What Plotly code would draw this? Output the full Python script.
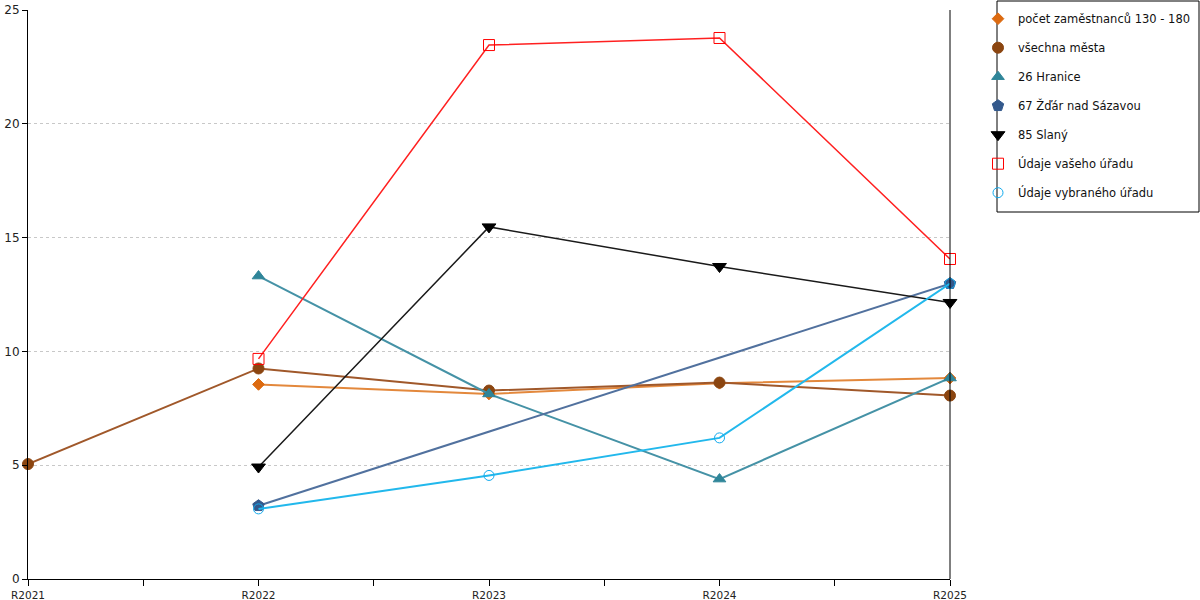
import plotly.graph_objects as go

years = ['R2021', 'R2022', 'R2023', 'R2024', 'R2025']

pocet_zam = [None, 8.55, 8.13, 8.6, 8.83]
vsechna_mesta = [5.05, 9.25, 8.28, 8.63, 8.06]
hranice = [None, 13.31, 8.13, 4.39, 8.83]
zdar = [None, 3.22, None, None, 12.98]
slany = [None, 4.92, 15.47, 13.73, 12.15]
vas_urad = [None, 9.67, 23.46, 23.77, 14.06]
vybrany_urad = [None, 3.08, 4.55, 6.2, 12.98]

series = [
    ('počet zaměstnanců 130 - 180', pocet_zam, '#e3883c', '#dc6a10', 'diamond', 2, 9),
    ('všechna města', vsechna_mesta, '#a0582a', '#8b4510', 'circle', 2, 11),
    ('26 Hranice', hranice, '#4592a6', '#2f8599', 'triangle-up', 2, 11),
    ('67 Žďár nad Sázavou', zdar, '#51719e', '#33598c', 'pentagon', 2, 12),
    ('85 Slaný', slany, '#1a1a1a', '#000000', 'triangle-down', 1.5, 12),
    ('Údaje vašeho úřadu', vas_urad, '#ff2020', '#ff0000', 'square-open', 1.5, 11),
    ('Údaje vybraného úřadu', vybrany_urad, '#22b8ec', '#11aaee', 'circle-open', 2, 10),
]

x = list(range(len(years)))

fig = go.Figure()

for i, (name, vals, lcol, mcol, sym, lw, ms) in enumerate(series):
    fig.add_trace(go.Scatter(x=x, y=vals, mode='lines', connectgaps=True,
                             line=dict(color=lcol, width=lw),
                             showlegend=False, hoverinfo='skip', cliponaxis=False))
    fig.add_trace(go.Scatter(x=x, y=vals, mode='markers', name=name,
                             legendgroup='g%d' % i,
                             marker=dict(symbol=sym, color=mcol, size=ms,
                                         line=dict(color=mcol, width=1)),
                             cliponaxis=False))

tickvals = []
ticktext = []
for i, y in enumerate(years):
    tickvals.append(i)
    ticktext.append(y)
    if i < len(years) - 1:
        tickvals.append(i + 0.5)
        ticktext.append('')

fig.update_layout(
    width=1200, height=600,
    margin=dict(l=28, r=250, t=10, b=21),
    paper_bgcolor='white', plot_bgcolor='white',
    font=dict(family='DejaVu Sans', size=11, color='#222222'),
    xaxis=dict(range=[0, 4], tickvals=tickvals, ticktext=ticktext, automargin=False,
               showgrid=False, zeroline=False, showline=True, linecolor='black',
               linewidth=1, ticks='outside', ticklen=6, tickcolor='black',
               tickfont=dict(size=10.5)),
    yaxis=dict(range=[0, 25], dtick=5, showgrid=True, gridcolor='#c8c8c8',
               griddash='dot', gridwidth=1, zeroline=False, showline=True, automargin=False,
               linecolor='black', linewidth=1, ticks='outside', ticklen=5,
               tickcolor='black', tickfont=dict(size=12)),
    legend=dict(xref='container', yref='container', x=0.815, y=0.993,
                xanchor='left', yanchor='top',
                borderwidth=0, bgcolor='rgba(0,0,0,0)',
                font=dict(family='DejaVu Sans', size=11.5, color='#111111'),
                tracegroupgap=10, itemwidth=30),
    shapes=[
        # right border of the plot area
        dict(type='line', xref='x domain', yref='y domain', x0=1, x1=1, y0=0, y1=1,
             line=dict(color='black', width=1)),
        # legend box
        dict(type='rect', xref='paper', yref='paper',
             x0=(997 - 28) / 922, x1=(1199 - 28) / 922,
             y0=(579 - 212) / 569, y1=(579 - 1) / 569,
             line=dict(color='black', width=1), fillcolor='rgba(0,0,0,0)', layer='above'),
    ],
)

fig.write_html('out.html', config={'displayModeBar': False},
               post_script="document.body.style.margin='0';")
